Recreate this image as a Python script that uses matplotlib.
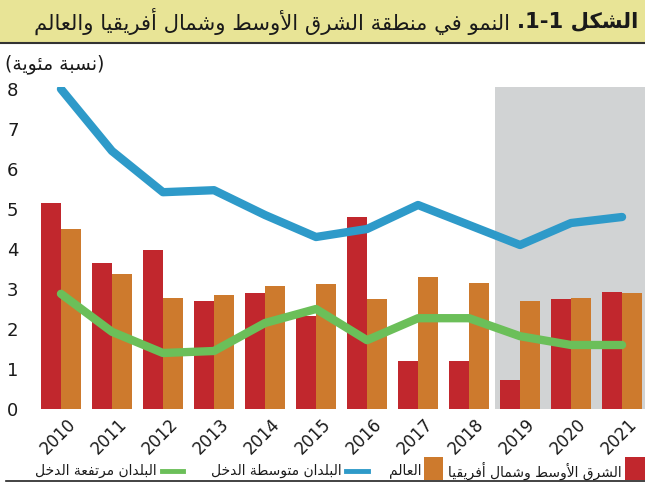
import matplotlib
matplotlib.use('Agg')
import matplotlib.pyplot as plt
import matplotlib.transforms as mtransforms
from matplotlib.patches import Rectangle
from matplotlib.lines import Line2D
import numpy as np

# البيانات
years = ['2010', '2011', '2012', '2013', '2014', '2015',
         '2016', '2017', '2018', '2019', '2020', '2021']
mena = [5.15, 3.65, 3.97, 2.70, 2.90, 2.33, 4.80, 1.20, 1.20, 0.73, 2.75, 2.92]
world = [4.50, 3.37, 2.77, 2.85, 3.07, 3.12, 2.75, 3.30, 3.15, 2.70, 2.77, 2.90]
emerging = [8.00, 6.45, 5.42, 5.47, 4.85, 4.30, 4.50, 5.10, 4.60, 4.10, 4.65, 4.80]
advanced = [2.88, 1.93, 1.40, 1.45, 2.15, 2.50, 1.72, 2.27, 2.27, 1.82, 1.60, 1.60]
yticks = [0, 1, 2, 3, 4, 5, 6, 7, 8]

title_bold = 'الشكل'
title_rest = 'النمو في منطقة الشرق الأوسط وشمال أفريقيا والعالم'
unit_label = '(نسبة مئوية)'
legend_labels = ['الشرق الأوسط وشمال أفريقيا', 'العالم',
                 'البلدان متوسطة الدخل', 'البلدان مرتفعة الدخل']

# تشكيل الحروف العربية يدويا (matplotlib لا يدعم الكتابة من اليمين لليسار)
DUAL = {'ئ': 0xFE89, 'ب': 0xFE8F, 'ت': 0xFE95, 'ث': 0xFE99, 'ج': 0xFE9D,
        'ح': 0xFEA1, 'خ': 0xFEA5, 'س': 0xFEB1, 'ش': 0xFEB5, 'ص': 0xFEB9,
        'ض': 0xFEBD, 'ط': 0xFEC1, 'ظ': 0xFEC5, 'ع': 0xFEC9, 'غ': 0xFECD,
        'ف': 0xFED1, 'ق': 0xFED5, 'ك': 0xFED9, 'ل': 0xFEDD, 'م': 0xFEE1,
        'ن': 0xFEE5, 'ه': 0xFEE9, 'ي': 0xFEF1}
RIGHT = {'آ': 0xFE81, 'أ': 0xFE83, 'ؤ': 0xFE85, 'إ': 0xFE87, 'ا': 0xFE8D,
         'ة': 0xFE93, 'د': 0xFEA9, 'ذ': 0xFEAB, 'ر': 0xFEAD, 'ز': 0xFEAF,
         'و': 0xFEED, 'ى': 0xFEEF}
LAM_ALEF = {'آ': 0xFEF5, 'أ': 0xFEF7, 'إ': 0xFEF9, 'ا': 0xFEFB}


def shape(text):
    items = []
    i = 0
    while i < len(text):
        if text[i] == 'ل' and i + 1 < len(text) and text[i + 1] in LAM_ALEF:
            items.append(('LA', text[i + 1]))
            i += 2
        else:
            items.append((text[i], None))
            i += 1
    out = []
    for k, (c, extra) in enumerate(items):
        prev = items[k - 1][0] if k > 0 else None
        nxt = items[k + 1][0] if k + 1 < len(items) else None
        jp = prev in DUAL
        jn = nxt is not None and (nxt in DUAL or nxt in RIGHT or nxt == 'LA')
        if c == 'LA':
            b = LAM_ALEF[extra]
            out.append(chr(b + 1 if jp else b))
        elif c in DUAL:
            b = DUAL[c]
            if jp and jn:
                out.append(chr(b + 3))
            elif jp:
                out.append(chr(b + 1))
            elif jn:
                out.append(chr(b + 2))
            else:
                out.append(chr(b))
        elif c in RIGHT:
            b = RIGHT[c]
            out.append(chr(b + 1 if jp else b))
        else:
            out.append(c)
    return ''.join(out)


def ar(text):
    s = shape(text)[::-1]
    return s.translate(str.maketrans('()', ')('))


def px(x):
    return x / 645


def py(y):
    return 1 - y / 487


plt.rcParams['font.family'] = ['DejaVu Sans']

red = '#c1272d'
orange = '#cd7a2d'
blue = '#2e9ac9'
green = '#6bbf59'
gray = '#d1d3d4'
ink = '#1a1a1a'

fig = plt.figure(figsize=(6.45, 4.87), dpi=100)

# شريط العنوان
fig.patches.append(Rectangle((0, py(42)), 1, 42 / 487, transform=fig.transFigure,
                             facecolor='#e8e496', edgecolor='none', zorder=0))
fig.add_artist(Line2D([0, 1], [py(42.5), py(42.5)], transform=fig.transFigure,
                      color='#333333', lw=1.5))
fig.add_artist(Line2D([px(6), 1], [py(481), py(481)], transform=fig.transFigure,
                      color='#222222', lw=1.2))

t1 = fig.text(px(638), py(21), '.1-1 ' + ar(title_bold), ha='right', va='center',
              fontsize=15.2, fontweight='bold', color=ink)
fig.add_artist(plt.Annotation(ar(title_rest) + ' ', xy=(0, 0.5), xycoords=t1,
                              ha='right', va='center', fontsize=15.2, color=ink))

fig.text(px(5), py(64), ar(unit_label), ha='left', va='center', fontsize=13.5, color=ink)

# المحاور
ax = fig.add_axes([px(38), 78 / 487, 607 / 645, 322 / 487])
x = np.arange(len(years))
w = 0.39
ax.axvspan(8.5, 11.45, color=gray, zorder=0, lw=0)
ax.bar(x - w / 2 - 0.005, mena, width=w, color=red, zorder=2)
ax.bar(x + w / 2 + 0.005, world, width=w, color=orange, zorder=2)
ax.plot(x, emerging, color=blue, lw=6, solid_capstyle='round', zorder=3)
ax.plot(x, advanced, color=green, lw=6, solid_capstyle='round', zorder=3)

ax.set_xlim(-0.45, 11.45)
ax.set_ylim(0, 8.05)
ax.set_yticks(yticks)
ax.set_xticks(x)
ax.set_xticklabels([])
ax.tick_params(axis='both', length=0, labelsize=13, colors=ink)
ax.tick_params(axis='y', pad=14)
for s in ax.spines.values():
    s.set_visible(False)

# تسميات السنوات مائلة
off = mtransforms.ScaledTranslation(0.12, -0.125, fig.dpi_scale_trans)
for i, yr in enumerate(years):
    ax.text(i, 0, yr, transform=ax.get_xaxis_transform() + off, rotation=45,
            ha='right', va='center', rotation_mode='anchor', fontsize=12, color=ink)

# وسيلة الإيضاح (من اليمين إلى اليسار)
leg_y = 471
legend_items = [
    ('patch', red, 625, 645, 622, legend_labels[0]),
    ('patch', orange, 424, 443, 421, legend_labels[1]),
    ('line', blue, 346, 368, 342, legend_labels[2]),
    ('line', green, 162, 183, 157, legend_labels[3]),
]
for kind, col, x0, x1, tx, lab in legend_items:
    if kind == 'patch':
        fig.patches.append(Rectangle((px(x0), py(480)), px(x1 - x0), 23 / 487,
                                     transform=fig.transFigure, facecolor=col,
                                     edgecolor='none'))
    else:
        fig.add_artist(Line2D([px(x0), px(x1)], [py(leg_y), py(leg_y)],
                              transform=fig.transFigure, color=col, lw=3.5))
    fig.text(px(tx), py(leg_y), ar(lab), ha='right', va='center', fontsize=10, color=ink)

fig.savefig('out.png', dpi=100)
